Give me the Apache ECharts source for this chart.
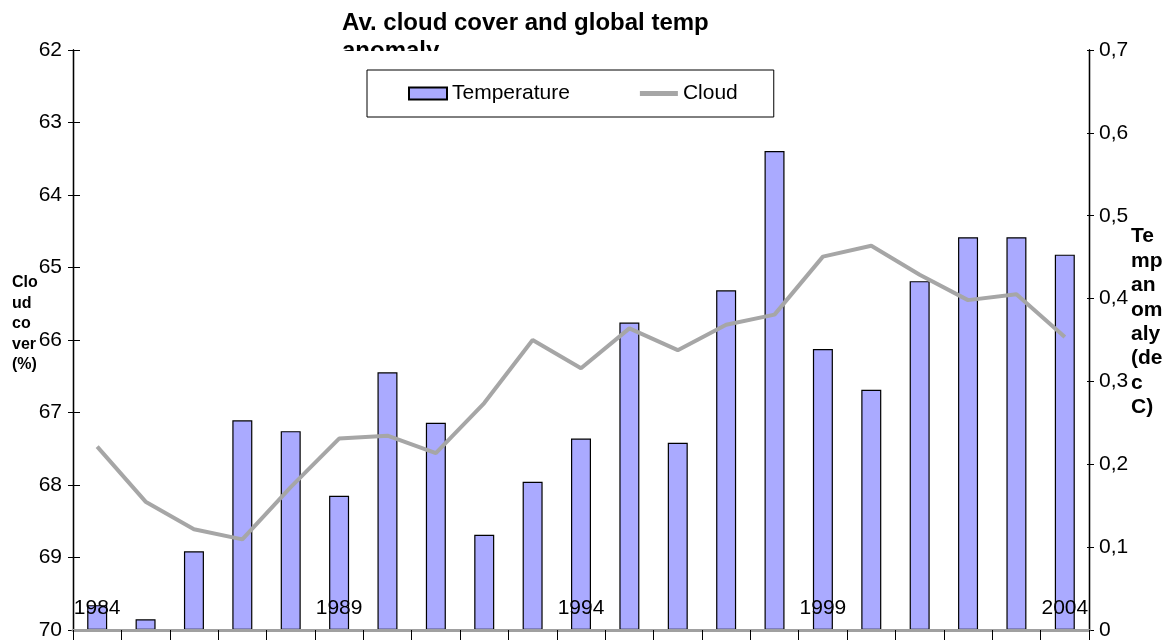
<!DOCTYPE html>
<html>
<head>
<meta charset="utf-8">
<script src="https://cdn.jsdelivr.net/npm/echarts@6/dist/echarts.min.js"></script>
<style>
html,body{margin:0;padding:0;background:#fff;}
#chart{width:1165px;height:641px;}
</style>
</head>
<body>
<div id="chart"></div>
<script>
var years = ['1984','1985','1986','1987','1988','1989','1990','1991','1992','1993','1994','1995','1996','1997','1998','1999','2000','2001','2002','2003','2004'];
var temperature = [0.030, 0.013, 0.095, 0.253, 0.240, 0.162, 0.311, 0.250, 0.115, 0.179, 0.231, 0.371, 0.226, 0.410, 0.578, 0.339, 0.290, 0.421, 0.474, 0.474, 0.453];
var cloud = [67.47, 68.23, 68.61, 68.75, 68.03, 67.36, 67.32, 67.56, 66.87, 66.00, 66.39, 65.84, 66.14, 65.79, 65.65, 64.85, 64.70, 65.10, 65.45, 65.37, 65.96];
var titleText = 'Av. cloud cover and global temp\nanomaly';
var leftAxisName = 'Clo\nud\nco\nver\n(%)';
var rightAxisName = 'Te\nmp\nan\nom\naly\n(de\nc\nC)';

var FONT = "'Liberation Sans', Arial, sans-serif";
var chart = echarts.init(document.getElementById('chart'), null, {renderer: 'canvas'});

chart.setOption({
  backgroundColor: '#fff',
  animation: false,
  textStyle: {fontFamily: FONT},
  title: {
    text: titleText,
    left: 342, top: 9, padding: 0,
    textStyle: {fontFamily: FONT, fontSize: 24, fontWeight: 'bold', color: '#000', lineHeight: 28}
  },
  graphic: [{
    type: 'rect', z: 50,
    shape: {x: 330, y: 51, width: 420, height: 18},
    style: {fill: '#fff'}
  }, {
    type: 'text', z: 60,
    style: {
      text: leftAxisName, x: 12, y: 324,
      align: 'left', verticalAlign: 'middle',
      font: "bold 16px 'Liberation Sans', Arial, sans-serif",
      lineHeight: 20.5, fill: '#000'
    }
  }, {
    type: 'text', z: 60,
    style: {
      text: rightAxisName, x: 1131, y: 322,
      align: 'left', verticalAlign: 'middle',
      font: "bold 21px 'Liberation Sans', Arial, sans-serif",
      lineHeight: 24.4, fill: '#000'
    }
  }],
  legend: {
    left: 367, top: 70,
    padding: [13, 36, 13, 41],
    borderColor: '#000', borderWidth: 1,
    itemWidth: 38, itemHeight: 12, itemGap: 70,
    textStyle: {fontFamily: FONT, fontSize: 21, color: '#000'},
    data: [
      {name: 'Temperature', icon: 'rect'},
      {name: 'Cloud', icon: 'path://M0,0H38V5H0Z', itemStyle: {color: '#a6a6a6', borderWidth: 0}}
    ]
  },
  grid: {left: 73, right: 76, top: 50, bottom: 11, containLabel: false},
  xAxis: [{
    type: 'category',
    data: years,
    position: 'bottom',
    boundaryGap: true,
    axisLine: {show: true, lineStyle: {color: '#a0a0a0', width: 3}},
    axisTick: {show: true, inside: false, length: 10, interval: 0, lineStyle: {color: '#000', width: 1}},
    axisLabel: {show: true, inside: true, interval: 4, margin: 11, fontFamily: FONT, fontSize: 21, color: '#000'},
    splitLine: {show: false},
    z: 5
  }, {
    type: 'category',
    data: years,
    position: 'top',
    axisLine: {show: true, lineStyle: {color: '#a0a0a0', width: 2}},
    axisTick: {show: false},
    axisLabel: {show: false},
    splitLine: {show: false}
  }],
  yAxis: [{
    type: 'value',
    position: 'left',
    inverse: true,
    min: 62, max: 70, interval: 1,
    axisLine: {show: true, onZero: false, lineStyle: {color: '#000', width: 1.3}},
    axisTick: {show: true, inside: false, length: 5, lineStyle: {color: '#000'}},
    axisLabel: {margin: 11, fontFamily: FONT, fontSize: 21, color: '#000'},
    splitLine: {show: false}
  }, {
    type: 'value',
    position: 'right',
    min: 0, max: 0.7, interval: 0.1,
    axisLine: {show: true, onZero: false, lineStyle: {color: '#000', width: 1.3}},
    axisTick: {show: true, inside: false, length: 5, lineStyle: {color: '#000'}},
    axisLabel: {
      margin: 10, fontFamily: FONT, fontSize: 21, color: '#000',
      formatter: function (v) { return (Math.round(v * 10) / 10).toString().replace('.', ','); }
    },
    splitLine: {show: false}
  }, {
    type: 'value',
    position: 'left', inverse: true, min: 62, max: 70, interval: 1,
    axisLine: {show: true, onZero: false, lineStyle: {color: '#000', width: 1.3}},
    axisTick: {show: true, inside: true, length: 7, lineStyle: {color: '#000'}},
    axisLabel: {show: false},
    splitLine: {show: false}
  }, {
    type: 'value',
    position: 'right', min: 0, max: 0.7, interval: 0.1,
    axisLine: {show: true, onZero: false, lineStyle: {color: '#000', width: 1.3}},
    axisTick: {show: true, inside: true, length: 2, lineStyle: {color: '#000'}},
    axisLabel: {show: false},
    splitLine: {show: false}
  }],
  series: [{
    name: 'Temperature',
    type: 'bar',
    xAxisIndex: 0,
    yAxisIndex: 1,
    data: temperature,
    barWidth: 20,
    itemStyle: {color: '#aaaaff', borderColor: '#000', borderWidth: 1.2},
    z: 2
  }, {
    name: 'Cloud',
    type: 'line',
    xAxisIndex: 0,
    yAxisIndex: 0,
    data: cloud,
    symbol: 'none',
    lineStyle: {color: '#a6a6a6', width: 4},
    itemStyle: {color: '#a6a6a6'},
    z: 3
  }]
});
</script>
</body>
</html>
